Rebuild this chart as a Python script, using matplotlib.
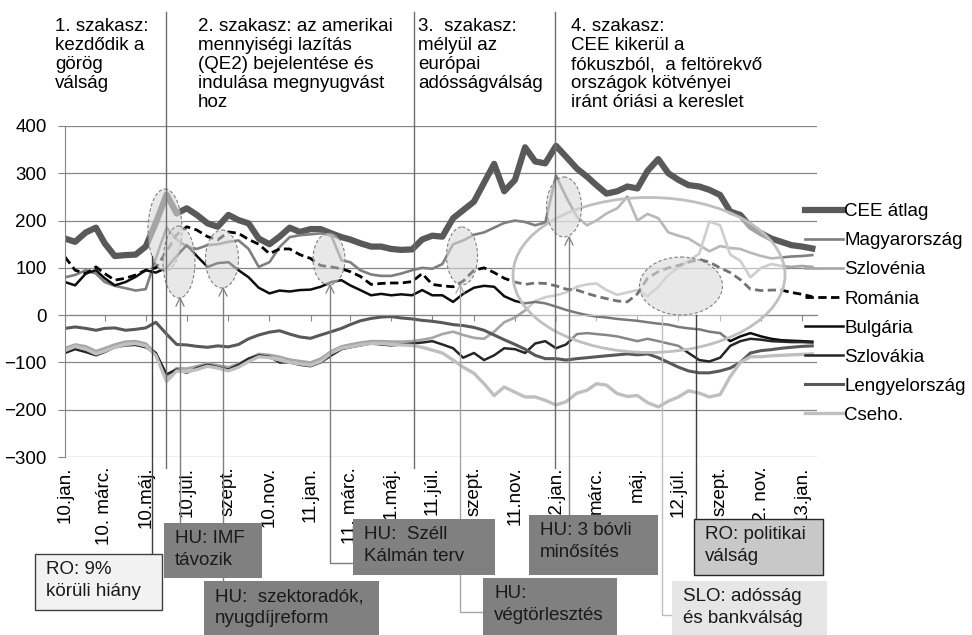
import datetime as dt
import matplotlib
matplotlib.use("Agg")
import matplotlib.pyplot as plt
from matplotlib import patches, transforms
from matplotlib.lines import Line2D

plt.rcParams["font.family"] = ["Liberation Sans", "DejaVu Sans"]
FS = 13.5
W, H = 972, 635

# half-monthly observations, 2010-01-01 .. 2013-01-16
dates = [dt.date(2010 + k // 24, (k // 2) % 12 + 1, 1 if k % 2 == 0 else 16) for k in range(74)]

cee = [162, 155, 175, 185, 152, 125, 127, 128, 145, 195,
       255, 215, 226, 212, 194, 187, 212, 201, 194, 162,
       150, 166, 185, 176, 182, 182, 173, 165, 160, 152,
       145, 145, 140, 138, 139, 160, 168, 166, 205, 222,
       240, 280, 320, 262, 286, 355, 325, 321, 358, 335,
       310, 293, 275, 257, 262, 272, 268, 305, 330, 300,
       286, 275, 272, 265, 254, 219, 212, 187, 173, 162,
       155, 148, 145, 141]
hu = [80, 85, 95, 88, 70, 62, 57, 52, 55, 120,
      185, 160, 145, 140, 148, 150, 155, 158, 140, 102,
      112, 144, 165, 169, 171, 173, 168, 116, 112, 95,
      86, 83, 83, 88, 95, 100, 98, 108, 150, 158,
      170, 175, 185, 195, 200, 197, 190, 196, 295, 250,
      208, 190, 200, 215, 226, 250, 200, 214, 205, 175,
      168, 162, 148, 135, 146, 142, 140, 132, 125, 120,
      122, 124, 125, 127]
slo = [-70, -62, -66, -76, -70, -62, -56, -55, -60, -80,
       -130, -112, -113, -108, -102, -106, -110, -103, -92, -82,
       -84, -88, -94, -97, -100, -92, -76, -66, -62, -58,
       -55, -55, -56, -56, -55, -52, -48, -40, -35, -42,
       -48, -50, -35, -15, -5, 10, 30, 38, 42, 48,
       60, 65, 67, 53, 43, 48, 53, 40, 60, 85,
       100, 115, 130, 198, 190, 128, 115, 80, 100, 108,
       104, 102, 104, 102]
ro = [123, 95, 88, 102, 88, 74, 78, 85, 95, 100,
      135, 170, 187, 180, 166, 159, 176, 173, 160, 150,
      130, 140, 140, 128, 120, 105, 102, 98, 92, 82,
      65, 67, 68, 68, 71, 88, 65, 62, 60, 72,
      95, 100, 90, 78, 70, 65, 68, 67, 62, 55,
      53, 46, 40, 35, 30, 28, 45, 78, 92, 100,
      105, 112, 118, 112, 100, 90, 75, 55, 52, 53,
      53, 48, 44, 39]
bg = [70, 63, 88, 95, 78, 63, 70, 81, 95, 90,
      100, 125, 148, 125, 102, 110, 112, 95, 80, 58,
      46, 52, 50, 53, 54, 60, 70, 74, 63, 53,
      42, 45, 42, 44, 42, 53, 42, 42, 28, 45,
      58, 62, 60, 40, 30, 25, 28, 25, 18, 11,
      5, 0, -3, -5, -8, -10, -12, -15, -18, -20,
      -25, -28, -30, -35, -38, -55, -45, -38, -45, -50,
      -53, -54, -55, -56]
sk = [-80, -72, -78, -85, -78, -68, -64, -63, -68, -80,
      -125, -115, -122, -112, -105, -110, -115, -105, -92, -85,
      -88, -100, -100, -105, -108, -100, -85, -72, -68, -64,
      -60, -62, -64, -62, -60, -58, -55, -62, -70, -90,
      -80, -95, -85, -70, -72, -80, -60, -55, -70, -62,
      -40, -38, -40, -42, -45, -50, -55, -50, -55, -60,
      -65, -80, -95, -98, -90, -65, -55, -50, -52, -55,
      -56, -57, -57, -58]
pl = [-28, -25, -28, -32, -28, -27, -32, -30, -27, -15,
      -40, -62, -63, -66, -68, -65, -67, -62, -50, -42,
      -36, -33, -40, -46, -49, -42, -35, -28, -20, -12,
      -7, -4, -3, -6, -8, -11, -13, -16, -20, -22,
      -26, -32, -42, -52, -62, -72, -85, -92, -92, -95,
      -92, -90, -88, -86, -84, -82, -84, -82, -90, -100,
      -110, -118, -122, -122, -118, -112, -100, -80, -75, -73,
      -70, -68, -66, -65]
cz = [-75, -66, -72, -82, -76, -68, -62, -60, -65, -85,
      -140, -118, -120, -115, -108, -112, -118, -110, -98, -88,
      -90, -95, -100, -103, -106, -98, -80, -70, -67, -63,
      -60, -60, -62, -63, -64, -68, -74, -80, -95, -110,
      -123, -145, -170, -152, -163, -173, -173, -180, -190, -183,
      -165, -159, -145, -148, -166, -172, -170, -185, -194, -182,
      -173, -160, -165, -173, -168, -130, -100, -88, -88, -86,
      -85, -84, -83, -82]

series = [
    ("CEE átlag", cee, dict(color="#595959", lw=4.5)),
    ("Magyarország", hu, dict(color="#7f7f7f", lw=1.9)),
    ("Szlovénia", slo, dict(color="#a6a6a6", lw=1.9)),
    ("Románia", ro, dict(color="#000000", lw=2.0, ls=(0, (3, 1.6)))),
    ("Bulgária", bg, dict(color="#0d0d0d", lw=1.8)),
    ("Szlovákia", sk, dict(color="#262626", lw=1.8)),
    ("Lengyelország", pl, dict(color="#595959", lw=2.2)),
    ("Cseho.", cz, dict(color="#bfbfbf", lw=2.4)),
]

tick_dates = [dt.date(2010 + m // 12, m % 12 + 1, 1) for m in range(0, 37, 2)]
tick_labels = ["10.jan.", "10. márc.", "10.máj.", "10.júl.", "szept.", "10.nov.",
               "11.jan.", "11. márc.", "11.máj.", "11.júl.", "szept.", "11.nov.",
               "12.jan.", "márc.", "máj.", "12.júl.", "szept.", "12. nov.", "13.jan."]

phases = [
    (55, "1. szakasz:\nkezdődik a\ngörög\nválság"),
    (198, "2. szakasz: az amerikai\nmennyiségi lazítás\n(QE2) bejelentése és\nindulása megnyugvást\nhoz"),
    (418, "3.  szakasz:\nmélyül az\neurópai\nadósságválság"),
    (571, "4. szakasz:\nCEE kikerül a\nfókuszból,  a feltörekvő\nországok kötvényei\niránt óriási a kereslet"),
]

GRID = "#868686"
fig = plt.figure(figsize=(W / 100, H / 100), dpi=100)
ax = fig.add_axes([65 / W, 1 - 457 / H, (817 - 65) / W, (457 - 126) / H])

for name, vals, style in series:
    ax.plot(dates, vals, label=name, solid_joinstyle="round", **style)

ax.set_xlim(dt.date(2010, 1, 1), dt.date(2013, 1, 23))
ax.set_ylim(-300, 400)
ax.set_yticks(range(-300, 401, 100))
ax.grid(axis="y", color=GRID, lw=0.9)
ax.set_axisbelow(True)
for s in ("top", "right"):
    ax.spines[s].set_visible(False)
ax.spines["left"].set_color(GRID)
ax.spines["bottom"].set_color(GRID)
ax.spines["bottom"].set_position(("data", 0))
ax.set_xticks(tick_dates)
ax.tick_params(axis="x", direction="out", length=4, color=GRID, labelbottom=False)
ax.tick_params(axis="y", direction="out", length=5, color=GRID, labelsize=FS, pad=8)

sec = ax.secondary_xaxis("bottom")
sec.set_xticks(tick_dates, labels=tick_labels, rotation=90, fontsize=FS)
sec.tick_params(length=0, pad=7)
sec.spines["bottom"].set_visible(False)

ax.legend(loc="upper left", bbox_to_anchor=(805 / W, 1 - 203 / H), bbox_transform=fig.transFigure,
          frameon=False, fontsize=FS, handlelength=2.0, handletextpad=0.1, labelspacing=0.64,
          borderpad=0, borderaxespad=0)

# annotation layer, placed in pixel coordinates of the figure
PX = transforms.Affine2D().scale(1 / W, -1 / H).translate(0, 1) + fig.transFigure

for x, txt in phases:
    fig.text(x / W, 1 - 18 / H, txt, fontsize=FS, va="top", ha="left", linespacing=1.16)
for x in (166, 414, 555):
    fig.add_artist(Line2D([x, x], [12, 468], transform=PX, color="#6f6f6f", lw=1.0))

small = [(165, 230, 34, 82), (179, 262, 32, 72), (222, 259, 33, 58), (329, 259, 32, 52),
         (462, 256, 31, 58), (564, 207, 35, 60), (681, 286, 83, 58)]
fig.add_artist(patches.Ellipse((649, 275), 272, 155, transform=PX, facecolor=(1, 1, 1, 0.45),
                               edgecolor="#bfbfbf", lw=2))
for cx, cy, w, h in small:
    fig.add_artist(patches.Ellipse((cx, cy), w, h, transform=PX, facecolor=(0.85, 0.85, 0.85, 0.6),
                                   edgecolor="#7f7f7f", lw=0.8, ls=(0, (3, 2))))

connectors = [
    ([152, 152], [256, 554], "#404040", False),
    ([180, 180], [298, 523], "#7f7f7f", True),
    ([223, 223], [288, 581], "#7f7f7f", True),
    ([330, 330, 353], [285, 563, 563], "#7f7f7f", True),
    ([460, 460, 483], [285, 612, 612], "#a6a6a6", True),
    ([569, 569], [237, 515], "#7f7f7f", True),
    ([662, 662, 672], [315, 615, 615], "#bfbfbf", False),
    ([696, 696], [315, 519], "#404040", False),
]
for xs, ys, col, arrow in connectors:
    fig.add_artist(Line2D(xs, ys, transform=PX, color=col, lw=1.0))
    if arrow:
        x0, y0 = xs[0], ys[0]
        fig.add_artist(Line2D([x0 - 4, x0, x0 + 4], [y0 + 8, y0, y0 + 8], transform=PX, color=col, lw=0.9))

boxes = [
    (35, 554, 162, 610, "#f2f2f2", "#404040", "RO: 9%\nkörüli hiány"),
    (164, 523, 262, 578, "#808080", "none", "HU: IMF\ntávozik"),
    (204, 581, 379, 645, "#808080", "none", "HU:  szektoradók,\nnyugdíjreform"),
    (353, 519, 495, 575, "#808080", "none", "HU:  Széll\nKálmán terv"),
    (483, 578, 617, 645, "#808080", "none", "HU:\nvégtörlesztés"),
    (529, 515, 658, 575, "#808080", "none", "HU: 3 bóvli\nminősítés"),
    (694, 519, 823, 575, "#c8c8c8", "#262626", "RO: politikai\nválság"),
    (672, 581, 827, 645, "#e6e6e6", "none", "SLO: adósság\nés bankválság"),
]
for x0, y0, x1, y1, fc, ec, txt in boxes:
    fig.add_artist(patches.Rectangle((x0, y0), x1 - x0, y1 - y0, transform=PX, facecolor=fc,
                                     edgecolor=ec, lw=1.0, zorder=4))
    fig.text((x0 + 11) / W, 1 - (y0 + 7) / H, txt, fontsize=FS, va="top", ha="left",
             linespacing=1.4, color="#1a1a1a", zorder=5)

fig.savefig("out.png", dpi=100)
